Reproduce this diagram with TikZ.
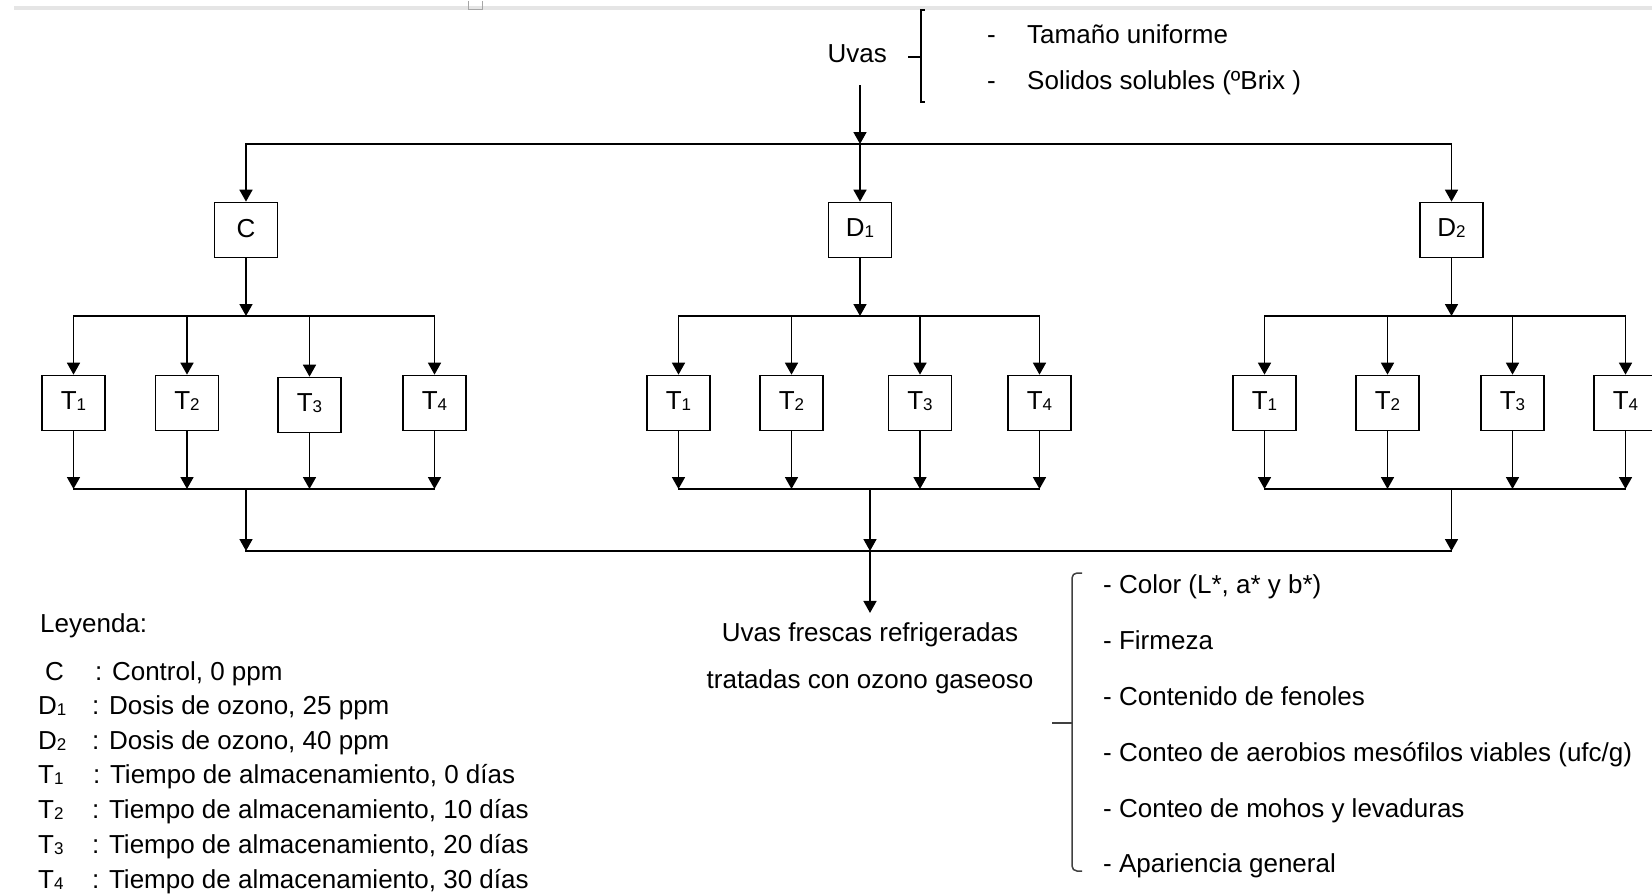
\documentclass[tikz,border=0pt]{standalone}
\usepackage{fontspec}
\setmainfont{Liberation Sans}
\usetikzlibrary{arrows.meta}
\newcommand{\fsz}{\fontsize{26}{30}\selectfont}
\newcommand{\mysub}[1]{\raisebox{-1pt}{\fontsize{17}{17}\selectfont #1}}
\tikzset{
  ln/.style={line width=1.7pt, line cap=rect},
  arr/.style={line width=1.7pt, -{Triangle[width=13pt,length=12pt]}},
  tbox/.style={draw, line width=1.7pt, minimum width=63pt, minimum height=55pt, inner sep=0pt, font=\fsz, fill=white, text depth=4pt},
  txt/.style={font=\fsz, inner sep=0pt, anchor=base west},
  brk/.style={line width=1.5pt},
}
\begin{document}
\begin{tikzpicture}[x=1pt,y=-1pt]
\useasboundingbox (0,0) rectangle (1652,895);
% page artefact at top
\fill[black!10] (14,6) rectangle (1652,9.5);
\draw[black!35, line width=0.8pt] (468,1) -- (468,9) -- (482,9) -- (482,1);

% rows
\coordinate (rowA) at (0,144);
\coordinate (rowB) at (0,316);
\coordinate (rowL) at (0,489);
\coordinate (rowM) at (0,551);

% Uvas header
\node[font=\fsz, inner sep=0pt, anchor=base east] (uvas) at (887,62) {Uvas};
\draw[brk] (925,10) -- (921,10) -- (921,102) -- (925,102);
\draw[brk] (908,57) -- (921,57);
\node[txt] (dash1) at (987,43) {-};
\node[txt] (dash2) at (987,89) {-};
\node[txt] (h1) at (1027,43) {Tamaño uniforme};
\node[txt] (h2) at (1027,89) {Solidos solubles (ºBrix )};
\coordinate (u0) at (860,85);

% level 1 boxes
\node[tbox] (C) at (246,230) {C};
\node[tbox] (D1) at (860,230) {D\mysub{1}};
\node[tbox] (D2) at (1451.5,230) {D\mysub{2}};

% level 2 boxes
\node[tbox] (cT1) at (73.5,403) {T\mysub{1}};
\node[tbox] (cT2) at (187,403) {T\mysub{2}};
\node[tbox] (cT3) at (309.5,405) {T\mysub{3}};
\node[tbox] (cT4) at (434.5,403) {T\mysub{4}};
\node[tbox] (dT1) at (678.5,403) {T\mysub{1}};
\node[tbox] (dT2) at (791.5,403) {T\mysub{2}};
\node[tbox] (dT3) at (920,403) {T\mysub{3}};
\node[tbox] (dT4) at (1039.5,403) {T\mysub{4}};
\node[tbox] (eT1) at (1264.5,403) {T\mysub{1}};
\node[tbox] (eT2) at (1387.5,403) {T\mysub{2}};
\node[tbox] (eT3) at (1512.5,403) {T\mysub{3}};
\node[tbox] (eT4) at (1625.5,403) {T\mysub{4}};

% result
\node[font=\fsz, inner sep=0pt, anchor=base] (res1) at (870,641) {Uvas frescas refrigeradas};
\node[font=\fsz, inner sep=0pt, anchor=base] (res2) at (870,688) {tratadas con ozono gaseoso};

% top distribution
\draw[arr] (u0) -- (u0 |- rowA);
\draw[ln] (C |- rowA) -- (D2 |- rowA);
\draw[arr] (C |- rowA) -- (C.north);
\draw[arr] (D1 |- rowA) -- (D1.north);
\draw[arr] (D2 |- rowA) -- (D2.north);

% groups
\foreach \p/\g in {C/c, D1/d, D2/e}{
  \draw[arr] (\p.south) -- (\p |- rowB);
  \draw[ln] (\g T1 |- rowB) -- (\g T4 |- rowB);
  \foreach \i in {1,2,3,4}{
    \draw[arr] (\g T\i |- rowB) -- (\g T\i.north);
    \draw[arr] (\g T\i.south) -- (\g T\i |- rowL);
  }
  \draw[ln] (\g T1 |- rowL) -- (\g T4 |- rowL);
}
\draw[arr] (C |- rowL) -- (C |- rowM);
\draw[arr] (res1 |- rowL) -- (res1 |- rowM);
\draw[arr] (D2 |- rowL) -- (D2 |- rowM);
\draw[ln] (C |- rowM) -- (D2 |- rowM);
\draw[arr, shorten >=9pt] (res1 |- rowM) -- (res1.north);

% right list
\draw[brk, black!75, rounded corners=5pt] (1082,573) -- (1072,573) -- (1072,871) -- (1082,871);
\draw[brk, black!75] (1052,723) -- (1072,723);
\node[txt] (m1) at (1103,593) {- Color (L*, a* y b*)};
\node[txt] (m2) at (1103,649) {- Firmeza};
\node[txt] (m3) at (1103,705) {- Contenido de fenoles};
\node[txt] (m4) at (1103,761) {- Conteo de aerobios mesófilos viables (ufc/g)};
\node[txt] (m5) at (1103,817) {- Conteo de mohos y levaduras};
\node[txt] (m6) at (1103,872) {- Apariencia general};

% legend
\node[txt] (lg0) at (40,632) {Leyenda:};
\node[txt] (lk1) at (45,680) {C};
\node[txt] (lv1) at (95,680) {: Control, 0 ppm};
\node[txt] (lk2) at (38,714) {D\mysub{1}};
\node[txt] (lv2) at (92,714) {: Dosis de ozono, 25 ppm};
\node[txt] (lk3) at (38,749) {D\mysub{2}};
\node[txt] (lv3) at (92,749) {: Dosis de ozono, 40 ppm};
\node[txt] (lk4) at (38,783) {T\mysub{1}};
\node[txt] (lv4) at (93,783) {: Tiempo de almacenamiento, 0 días};
\node[txt] (lk5) at (38,818) {T\mysub{2}};
\node[txt] (lv5) at (92,818) {: Tiempo de almacenamiento, 10 días};
\node[txt] (lk6) at (38,853) {T\mysub{3}};
\node[txt] (lv6) at (92,853) {: Tiempo de almacenamiento, 20 días};
\node[txt] (lk7) at (38,888) {T\mysub{4}};
\node[txt] (lv7) at (92,888) {: Tiempo de almacenamiento, 30 días};
\end{tikzpicture}
\end{document}
